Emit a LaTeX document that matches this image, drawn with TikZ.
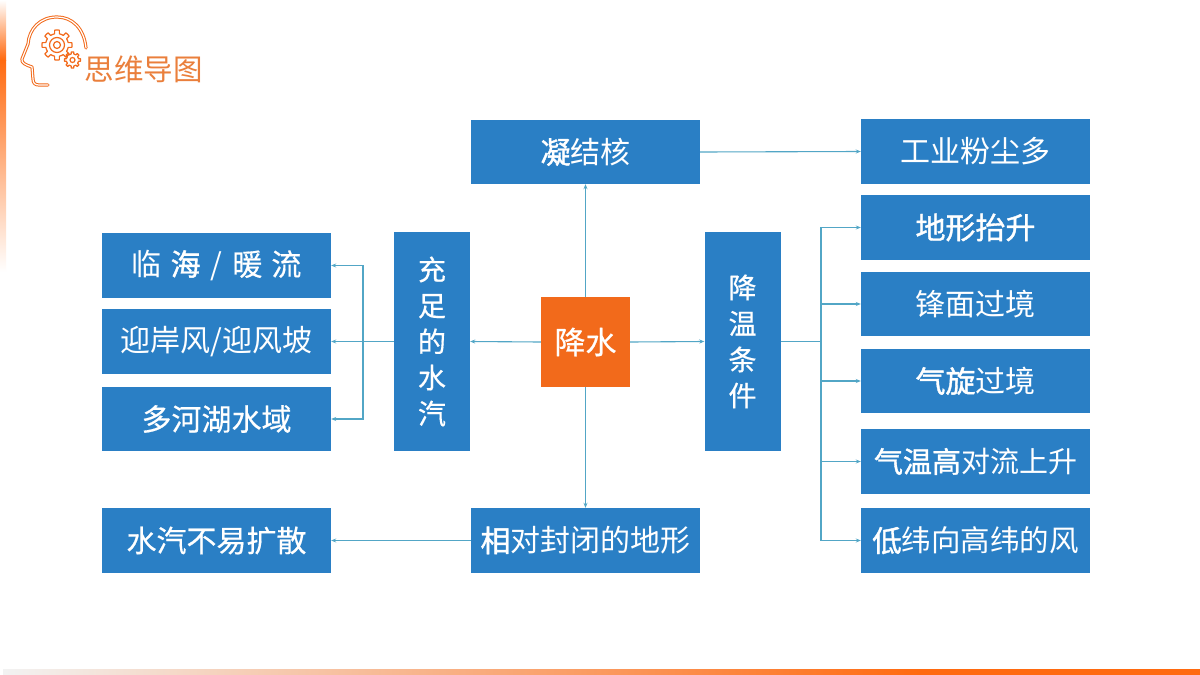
\documentclass[tikz,border=0pt]{standalone}
\usepackage{fontspec}
\setmainfont{Noto Sans CJK SC}
\newfontfamily\medfont[FakeBold=0.5]{Noto Sans CJK SC}
\newfontfamily\strongfont[FakeBold=1.3]{Noto Sans CJK SC}
\usetikzlibrary{arrows.meta}
\definecolor{boxblue}{HTML}{2A7FC5}
\definecolor{linkblue}{HTML}{52A6C6}
\definecolor{hotorange}{HTML}{F26A1B}
\definecolor{barorange}{HTML}{FF6A10}
\definecolor{titleorange}{HTML}{EA7F3C}
\newcommand{\B}[1]{{\strongfont #1}}
\newcommand{\M}[1]{{\medfont #1}}
\newcommand{\gearshape}[4]{% cx cy R teeth
  \draw[iconline] plot[domain=0:360,samples=121,variable=\t]
    ({#1+(#3*ifthenelse(cos(#4*\t)>0,1,0.76))*cos(\t)},{#2+(#3*ifthenelse(cos(#4*\t)>0,1,0.76))*sin(\t)}) -- cycle;
}
\tikzset{
  bluebox/.style={fill=boxblue,text=white,inner sep=0pt,minimum width=229pt,minimum height=65pt,font=\fontsize{30}{36}\selectfont,align=center},
  tallbox/.style={bluebox,minimum width=76pt,minimum height=219pt,font=\fontsize{28}{36}\selectfont},
  link/.style={draw=linkblue,line width=1.1pt,-{Stealth[length=5pt,width=4pt]}},
  plainlink/.style={draw=linkblue,line width=1.1pt},
  iconline/.style={draw=hotorange,line width=1.2pt,line join=round}
}
\begin{document}
\begin{tikzpicture}[x=1pt,y=-1pt]
\useasboundingbox (0,0) rectangle (1200,675);
\fill[white] (0,0) rectangle (1200,675);
% decorative bars
\shade[top color=white,bottom color=barorange] (0,0) rectangle (6,60);
\shade[top color=barorange,bottom color=white] (0,60) rectangle (6,272);
\shade[left color=black!5,right color=barorange] (3,669) rectangle (920,675);
\fill[barorange] (920,669) rectangle (1200,675);
% head icon
\draw[hotorange,line width=3.2pt,line cap=round,line join=round]
  (86,48) .. controls (84,28) and (72,17) .. (57,17) .. controls (40,17) and (29,29) .. (28,44)
  -- (22,59) .. controls (21,63) and (26,65) .. (32,67) -- (33,79) .. controls (33,83) and (35,85) .. (39,85) -- (48,85);
\draw[white,line width=1.2pt,line cap=round,line join=round]
  (86,48) .. controls (84,28) and (72,17) .. (57,17) .. controls (40,17) and (29,29) .. (28,44)
  -- (22,59) .. controls (21,63) and (26,65) .. (32,67) -- (33,79) .. controls (33,83) and (35,85) .. (39,85) -- (48,85);
\gearshape{57}{45}{15}{8}
\draw[iconline] (57,45) circle (7.5);
\draw[iconline] (57,45) circle (3.5);
\gearshape{72.5}{60}{8}{8}
\draw[iconline] (72.5,60) circle (2.5);
\node[text=titleorange,font=\fontsize{29.5}{32}\selectfont,inner sep=0pt] (title) at (143.5,69) {思维导图};
% nodes
\node[bluebox,fill=hotorange,minimum width=89pt,minimum height=90pt,font=\fontsize{31}{36}\selectfont] (rain) at (585.5,342) {\M{降水}};
\node[bluebox,minimum height=64pt] (nuclei) at (585.5,152) {\B{凝}结核};
\node[bluebox,minimum height=65pt] (terrain) at (585.5,540.5) {\B{相}对封闭的地形};
\node[tallbox] (vapor) at (432,341.5) {\M{充}\\\M{足}\\\M{的}\\\M{水}\\\M{汽}};
\node[tallbox] (cool) at (742.5,341.5) {\M{降}\\\M{温}\\\M{条}\\\M{件}};
\node[bluebox] (sea) at (216.5,265.5) {临\hspace{9pt}\B{海}\hspace{10pt}/\hspace{10pt}\M{暖}\hspace{9pt}\M{流}};
\node[bluebox] (wind) at (216.5,341.5) {迎岸风/迎风坡};
\node[bluebox,minimum height=64pt] (lake) at (216.5,419) {\M{多河湖水域}};
\node[bluebox] (spread) at (216.5,540.5) {\M{水汽不易扩散}};
\node[bluebox] (dust) at (975.5,151.5) {工业粉尘多};
\node[bluebox] (lift) at (975.5,227.5) {\B{地形抬升}};
\node[bluebox,minimum height=64pt] (front) at (975.5,304) {锋面过境};
\node[bluebox,minimum height=64pt] (cyclone) at (975.5,381) {\B{气旋}过境};
\node[bluebox,font=\fontsize{29}{36}\selectfont] (convect) at (975.5,461.5) {\B{气温高}对流上升};
\node[bluebox,font=\fontsize{29.5}{36}\selectfont] (lowlat) at (975.5,540.5) {\B{低}纬向高纬的风};
% connectors
\draw[link] (rain.north) -- (nuclei.south);
\draw[link] (rain.south) -- (terrain.north);
\draw[link] (rain.west) -- (vapor.east);
\draw[link] (rain.east) -- (cool.west);
\draw[link] (nuclei.east) -- (dust.west);
\draw[link] (terrain.west) -- (spread.east);
\coordinate (ltrunk) at (363,341.5);
\coordinate (rtrunk) at (821,341.5);
\draw[link] (vapor.west) -- (wind.east);
\draw[link] (ltrunk) |- (sea.east);
\draw[link] (ltrunk) |- (lake.east);
\draw[plainlink] (cool.east) -- (rtrunk);
\draw[link] (rtrunk) |- (lift.west);
\draw[link] (rtrunk) |- (front.west);
\draw[link] (rtrunk) |- (cyclone.west);
\draw[link] (rtrunk) |- (convect.west);
\draw[link] (rtrunk) |- (lowlat.west);
\end{tikzpicture}
\end{document}
